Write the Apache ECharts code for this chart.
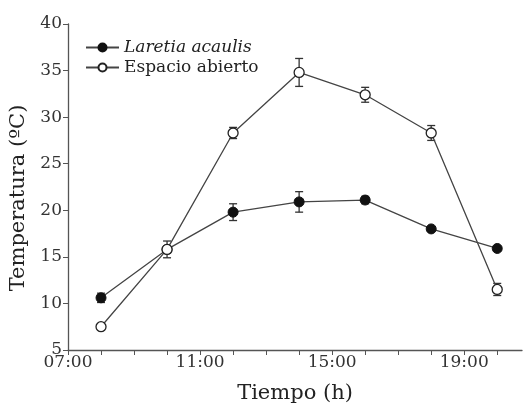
<!DOCTYPE html>
<html><head><meta charset="utf-8">
<script src="https://cdn.jsdelivr.net/npm/echarts@6/dist/echarts.min.js"></script>
<style>html,body{margin:0;padding:0;background:#fff}#c{width:525px;height:405px}</style>
</head><body><div id="c"></div>
<script>
var hours = [8, 10, 12, 14, 16, 18, 20];
var laretia = [10.6, 15.8, 19.8, 20.9, 21.1, 18.0, 15.9];
var laretiaErr = [0.5, 0.4, 0.9, 1.1, 0.4, 0.2, 0.2];
var abierto = [7.5, 15.8, 28.3, 34.8, 32.4, 28.3, 11.5];
var abiertoErr = [0.3, 0.9, 0.6, 1.5, 0.8, 0.8, 0.65];
var xTickLabels = ['07:00', '11:00', '15:00', '19:00'];
var yTicks = [5, 10, 15, 20, 25, 30, 35, 40];

var FONT = 'DejaVu Serif, Liberation Serif, serif';
function pairs(v){ return hours.map(function(h,i){ return [h, v[i]]; }); }
function errs(v,e){ return hours.map(function(h,i){ return [h, v[i]-e[i], v[i]+e[i]]; }); }
function labelToHour(s){ return parseInt(s.split(':')[0],10); }
function errRender(params, api){
  var x = api.value(0), lo = api.value(1), hi = api.value(2);
  var p1 = api.coord([x, lo]), p2 = api.coord([x, hi]);
  var w = 4;
  var st = {stroke:'#333', lineWidth:1.3};
  return {type:'group', children:[
    {type:'line', shape:{x1:p1[0],y1:p1[1],x2:p2[0],y2:p2[1]}, style:st},
    {type:'line', shape:{x1:p1[0]-w,y1:p1[1],x2:p1[0]+w,y2:p1[1]}, style:st},
    {type:'line', shape:{x1:p2[0]-w,y1:p2[1],x2:p2[0]+w,y2:p2[1]}, style:st}
  ]};
}
var hourTicks = [];
for (var h = 7; h <= 20; h++) hourTicks.push(h);

var chart = echarts.init(document.getElementById('c'));
chart.setOption({
  animation:false,
  grid:{left:68, top:24, right:3, bottom:55, containLabel:false, outerBoundsMode:'none'},
  legend:{
    orient:'vertical', left:80, top:34, itemGap:3, itemWidth:33, itemHeight:10,
    data:['Laretia acaulis','Espacio abierto'],
    formatter:function(n){ return n==='Laretia acaulis' ? '{it|'+n+'}' : '{n|'+n+'}'; },
    textStyle:{fontFamily:FONT, fontSize:17, color:'#222',
      rich:{it:{fontStyle:'italic', fontFamily:FONT, fontSize:17, color:'#222'}, n:{fontFamily:FONT, fontSize:17, color:'#222'}}}
  },
  xAxis:{
    type:'value', min:7, max:20.75,
    name:'Tiempo (h)', nameLocation:'middle', nameGap:33,
    nameTextStyle:{fontFamily:FONT, fontSize:21, color:'#222'},
    axisLine:{lineStyle:{color:'#555', width:1.3}},
    axisTick:{show:true, length:5, inside:false, lineStyle:{color:'#555'}, customValues:hourTicks},
    axisLabel:{fontFamily:FONT, fontSize:17, color:'#333', margin:4,
      customValues:xTickLabels.map(labelToHour),
      formatter:function(v){ var h=Math.round(v); return (h<10?'0':'')+h+':00'; }},
    splitLine:{show:false}
  },
  yAxis:{
    type:'value', min:5, max:40, interval:5,
    name:'Temperatura (ºC)', nameLocation:'middle', nameGap:31,
    nameTextStyle:{fontFamily:FONT, fontSize:21, color:'#222', padding:[0,22,0,0]},
    axisLine:{show:true, lineStyle:{color:'#555', width:1.3}},
    axisTick:{show:true, length:5, lineStyle:{color:'#555'}},
    axisLabel:{fontFamily:FONT, fontSize:17, color:'#333', margin:6,
      customValues:yTicks},
    splitLine:{show:false}
  },
  series:[
    {type:'custom', renderItem:errRender, data:errs(laretia, laretiaErr), z:3, silent:true},
    {type:'custom', renderItem:errRender, data:errs(abierto, abiertoErr), z:3, silent:true},
    {name:'Laretia acaulis', type:'line', data:pairs(laretia), symbol:'circle', symbolSize:10,
      lineStyle:{color:'#444', width:1.3}, itemStyle:{color:'#111', borderColor:'#111', borderWidth:1}, z:4},
    {name:'Espacio abierto', type:'line', data:pairs(abierto), symbol:'circle', symbolSize:10,
      lineStyle:{color:'#444', width:1.3}, itemStyle:{color:'#fff', borderColor:'#222', borderWidth:1.3}, z:4}
  ]
});
</script></body></html>
